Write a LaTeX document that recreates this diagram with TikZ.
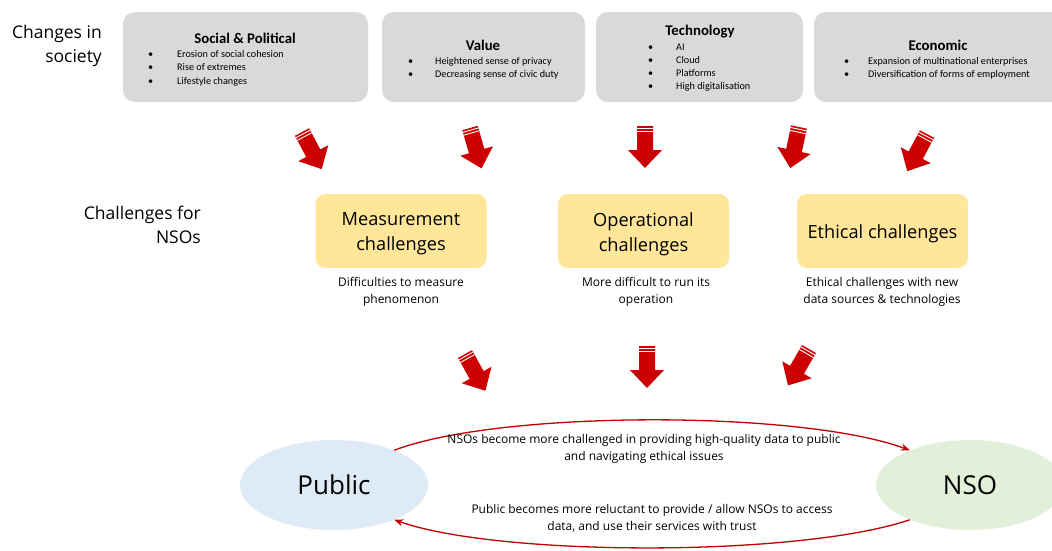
\documentclass[tikz,border=0pt]{standalone}
\usepackage{fontspec}
\setmainfont{Open Sans}
\newfontfamily\boxfont{Carlito}
\usetikzlibrary{arrows.meta,shapes.geometric}
\definecolor{boxgray}{HTML}{D9D9D9}
\definecolor{chalyellow}{HTML}{FFE699}
\definecolor{pubblue}{HTML}{DEEBF7}
\definecolor{nsogreen}{HTML}{E2F0D9}
\definecolor{arrowred}{HTML}{CC0000}
\definecolor{loopred}{HTML}{C00000}
\tikzset{
  graybox/.style={fill=boxgray, rounded corners=12pt, inner sep=0pt},
  chalbox/.style={fill=chalyellow, rounded corners=10pt, inner sep=0pt,
    minimum width=171pt, minimum height=74pt},
  chaltext/.style={align=center, inner sep=0pt, font=\fontsize{18.2}{25}\selectfont},
  boxtitle/.style={font=\boxfont\bfseries\fontsize{14.8}{16}\selectfont, inner sep=0pt},
  bullettext/.style={font=\boxfont\fontsize{10.2}{12}\selectfont, anchor=base west, inner sep=0pt},
  rowlabel/.style={align=right, anchor=east, font=\fontsize{17.5}{24.5}\selectfont, inner sep=0pt},
  caption/.style={align=center, font=\fontsize{12}{16.5}\selectfont, inner sep=0pt},
  looptext/.style={align=center, font=\fontsize{12}{16.5}\selectfont, inner sep=0pt},
  party/.style={ellipse, inner sep=0pt, minimum width=188pt, minimum height=90pt,
    font=\fontsize{26}{30}\selectfont},
  loopline/.style={draw=loopred, line width=1.3pt, -{Stealth[length=9pt,width=7pt]}},
  pics/stripedarrow/.style={code={
    \fill[arrowred] (-8,0) -- (8,0) -- (8,24) -- (17,24) -- (0,42)
      -- (-17,24) -- (-8,24) -- cycle;
    \draw[white, line width=0.9pt] (-8,2.2) -- (8,2.2) (-8,5.2) -- (8,5.2);
  }}
}
\begin{document}
\begin{tikzpicture}[x=1pt, y=-1pt]
\useasboundingbox (0,0) rectangle (1052,550);
\clip (0,0) rectangle (1052,550);
\fill[white] (0,0) rectangle (1052,550);

% row labels
\node[rowlabel] (lsoc) at (102,46) {Changes in\\society};
\node[rowlabel] (lnso) at (201,225) {Challenges for\\NSOs};

% drivers of change
\node[graybox, minimum width=245pt, minimum height=90pt] (soc) at (245.5,57) {};
\node[boxtitle] (soct) at (245,38.5) {Social \& Political};
\foreach \t [count=\i] in {Erosion of social cohesion, Rise of extremes, Lifestyle changes} {
  \node[bullettext] (socb\i) at (148,{53+13.5*(\i-1)+4}) {\textbullet};
  \node[bullettext] (soci\i) at (177,{53+13.5*(\i-1)+4}) {\t};
}

\node[graybox, minimum width=203pt, minimum height=90pt] (val) at (483.5,57) {};
\node[boxtitle] (valt) at (483,45) {Value};
\foreach \t [count=\i] in {Heightened sense of privacy, Decreasing sense of civic duty} {
  \node[bullettext] (valb\i) at (408,{60+13.3*(\i-1)+4}) {\textbullet};
  \node[bullettext] (vali\i) at (435,{60+13.3*(\i-1)+4}) {\t};
}

\node[graybox, minimum width=207pt, minimum height=90pt] (tec) at (699.5,57) {};
\node[boxtitle] (tect) at (700,32) {Technology};
\foreach \t [count=\i] in {AI, Cloud, Platforms, High digitalisation} {
  \node[bullettext] (tecb\i) at (648,{46+13.3*(\i-1)+4}) {\textbullet};
  \node[bullettext] (teci\i) at (676,{46+13.3*(\i-1)+4}) {\t};
}

\node[graybox, minimum width=256pt, minimum height=90pt] (eco) at (942,57) {};
\node[boxtitle] (ecot) at (938,45) {Economic};
\foreach \t [count=\i] in {Expansion of multinational enterprises, Diversification of forms of employment} {
  \node[bullettext] (ecob\i) at (844,{60+13.3*(\i-1)+4}) {\textbullet};
  \node[bullettext] (ecoi\i) at (868,{60+13.3*(\i-1)+4}) {\t};
}

% impacts on the drivers
\pic[rotate=28]  at (302,132) {stripedarrow};
\pic[rotate=16]  at (470,128) {stripedarrow};
\pic             at (645,126) {stripedarrow};
\pic[rotate=-12] at (799,127) {stripedarrow};
\pic[rotate=-28] at (927,134) {stripedarrow};

% challenges for NSOs
\node[chalbox] (meas) at (401,231) {};
\node[chalbox] (oper) at (643.5,231) {};
\node[chalbox] (ethi) at (882.5,231) {};
\node[chaltext] (meast) at (401,234) {Measurement\\challenges};
\node[chaltext] (opert) at (643.5,234) {Operational\\challenges};
\node[chaltext] (ethit) at (882.5,234) {Ethical challenges};

\node[caption, anchor=north] (measc) at (401,277.5) {Difficulties to measure\\phenomenon};
\node[caption, anchor=north] (operc) at (646,277.5) {More difficult to run its\\operation};
\node[caption, anchor=north] (ethic) at (882,277.5) {Ethical challenges with new\\data sources \& technologies};

\pic[rotate=29]  at (465,354) {stripedarrow};
\pic             at (647,346) {stripedarrow};
\pic[rotate=-30] at (809,349) {stripedarrow};

% public and NSO feedback loop
\node[party, fill=pubblue] (public) at (334,485) {Public};
\node[party, fill=nsogreen] (nso) at (970,485) {NSO};

\draw[loopline] (public.30) .. controls (500,410) and (800,410) .. (nso.150);
\draw[loopline] (nso.210) .. controls (800,557) and (500,557) .. (public.330);

\node[looptext] (ltop) at (644,449) {NSOs become more challenged in providing high-quality data to public\\and navigating ethical issues};
\node[looptext] (lbot) at (652,518) {Public becomes more reluctant to provide / allow NSOs to access\\data, and use their services with trust};
\end{tikzpicture}
\end{document}
